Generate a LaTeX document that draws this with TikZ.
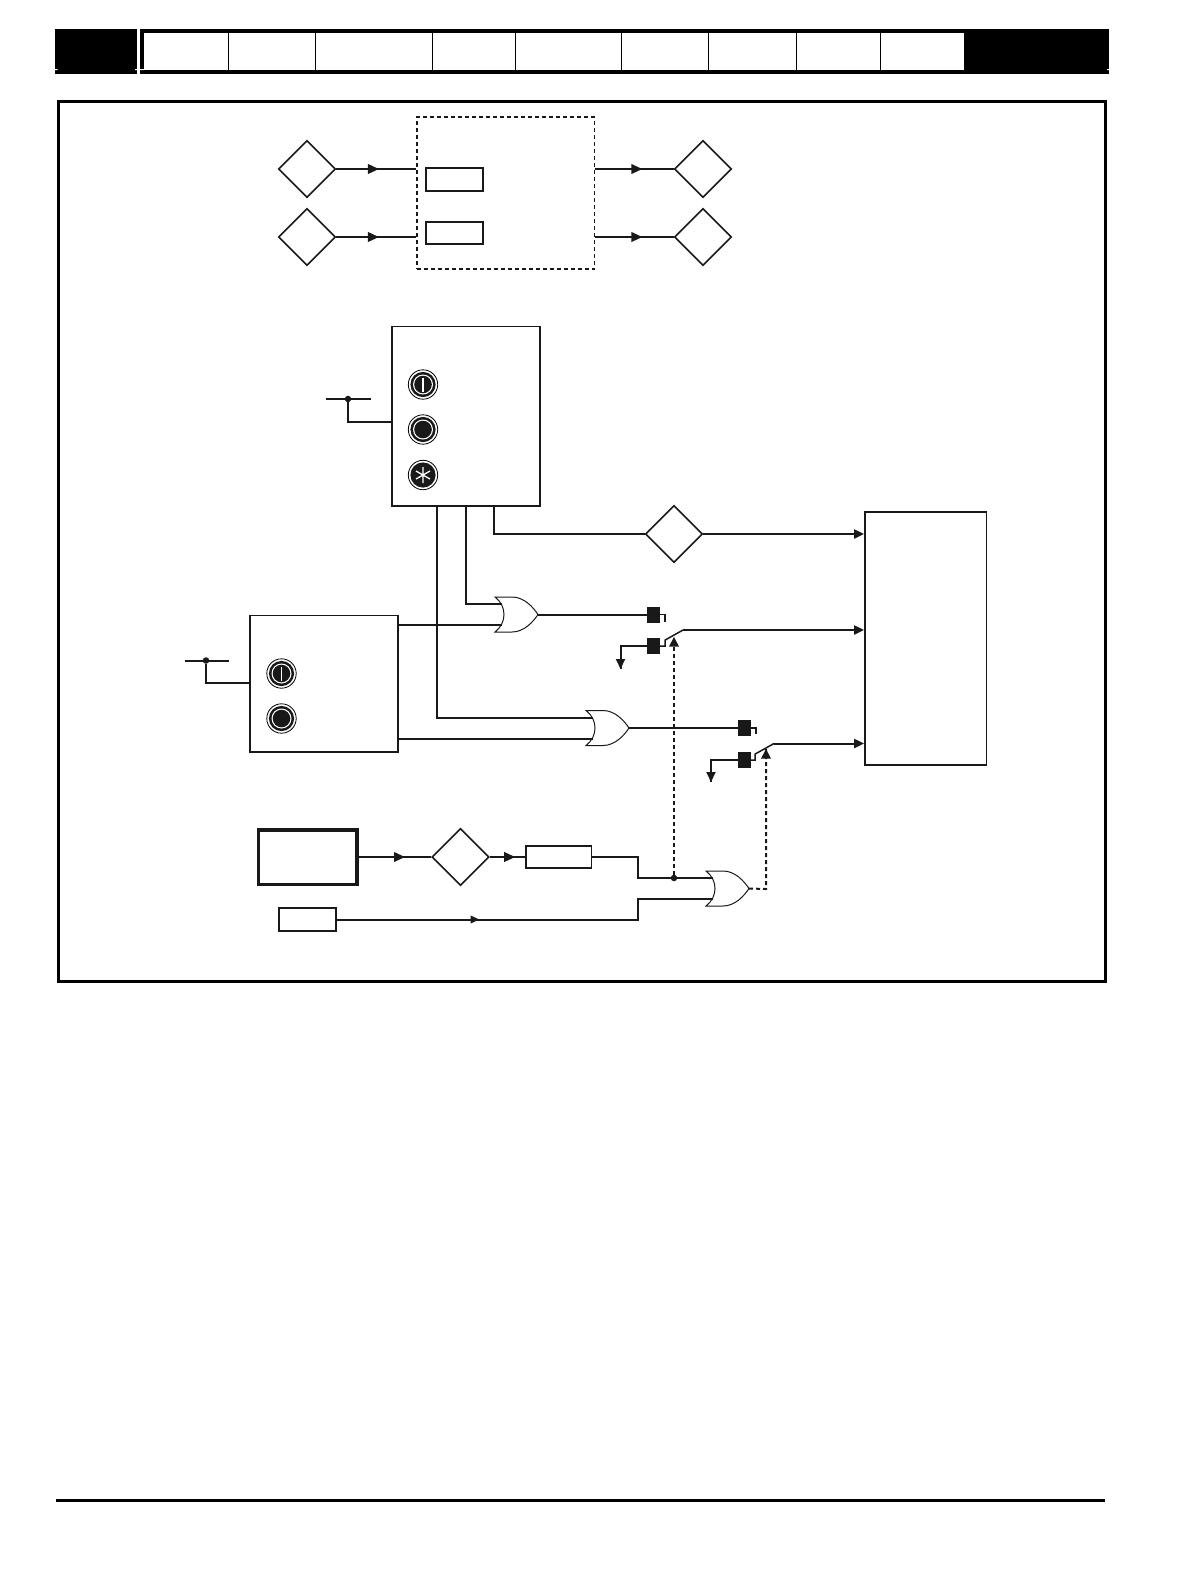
\documentclass[tikz,border=0pt]{standalone}
\usetikzlibrary{shapes.geometric,arrows.meta,decorations.markings,calc}
\tikzset{
  wire/.style={draw=black!90,line width=2pt},
  ctl/.style={draw=black!90,line width=2pt,dash pattern=on 4pt off 3pt},
  tipped/.style={-{Triangle[length=10pt,width=9pt]}},
  midarrow/.style={postaction={decorate},decoration={markings,mark=at position #1 with {\arrow{Triangle[length=11pt,width=9.5pt]}}}},
  smallmid/.style={postaction={decorate},decoration={markings,mark=at position #1 with {\arrow{Triangle[length=9pt,width=7.5pt]}}}},
  dia/.style={diamond,draw=black!90,line width=1.6pt,fill=white,minimum width=57pt,minimum height=57pt,inner sep=0pt,aspect=1},
  blk/.style={rectangle,draw=black!90,line width=1.8pt,inner sep=0pt},
  sqr/.style={rectangle,fill=black!90,minimum width=13pt,minimum height=16pt,inner sep=0pt},
  dotn/.style={circle,fill=black!90,minimum size=6.5pt,inner sep=0pt},
  orstyle/.style={draw=black!90,line width=1pt,fill=white},
  pics/buttonbase/.style={code={
    \draw[black,line width=.8pt] (0,0) circle (14.7);
    \fill[black!90] (0,0) circle (12.6);
    \fill[white] (0,0) circle (10);
    \fill[black!90] (0,0) circle (8.8);
  }},
  pics/startbtn/.style={code={
    \pic {buttonbase};
    \draw[white,line width=1.2pt] (0,-7) -- (0,7);
  }},
  pics/stopbtn/.style={code={\pic {buttonbase};}},
  pics/resetbtn/.style={code={
    \draw[black,line width=.8pt] (0,0) circle (14.7);
    \fill[black!90] (0,0) circle (12.6);
    \draw[white,line width=1.3pt] (0,-8) -- (0,8) (-7,-4) -- (7,4) (-7,4) -- (7,-4);
  }},
}
\newcommand{\orgate}[3]{%
  \begin{scope}[shift={(#2,#3)}]
    \path[orstyle] (0,0) -- (17,0) .. controls (29,0) and (38,10) .. (43,17.5)
      .. controls (38,25) and (29,35) .. (17,35) -- (0,35)
      .. controls (12,26) and (12,9) .. (0,0) -- cycle;
    \coordinate (#1in1) at (6.5,7);
    \coordinate (#1in2) at (6.5,28);
    \coordinate (#1out) at (43,17.5);
  \end{scope}}
\begin{document}
\begin{tikzpicture}[x=1pt,y=-1pt]
\useasboundingbox (0,0) rectangle (1190,1580);
% page header
\fill[black] (55,29) rectangle (137,73.5);
\fill[black] (140,29) rectangle (1109,74);
\fill[white] (144,33) rectangle (964,70);
\draw[black,line width=1pt] (228,33) -- (228,70) (315,33) -- (315,70) (432,33) -- (432,70)
  (515.5,33) -- (515.5,70) (621.5,33) -- (621.5,70) (708.5,33) -- (708.5,70)
  (796,33) -- (796,70) (880.5,33) -- (880.5,70);
\fill[white] (55,69) rectangle (57.5,70) (135,69) rectangle (144,70) (1107,69) rectangle (1109,70);
% frame and foot rule
\draw[black,line width=3pt] (58.5,101.5) rectangle (1105.5,981);
\draw[black,line width=3pt] (55.5,1500.5) -- (1105,1500.5);

% top group
\node[blk,dash pattern=on 4pt off 3pt,minimum width=177.5pt,minimum height=152pt] (dashbox) at (505.75,193) {};
\node[blk,minimum width=57pt,minimum height=23pt] (r1) at (454.5,179.5) {};
\node[blk,minimum width=57pt,minimum height=22pt] (r2) at (454.5,233) {};
\node[dia] (dl1) at (307,169) {};
\node[dia] (dl2) at (307,237) {};
\node[dia] (dr1) at (703,169) {};
\node[dia] (dr2) at (703,237) {};
\draw[wire,midarrow=.535] (dl1.east) -- (dl1.east -| dashbox.west);
\draw[wire,midarrow=.535] (dl2.east) -- (dl2.east -| dashbox.west);
\draw[wire,midarrow=.6] (dr1.west -| dashbox.east) -- (dr1.west);
\draw[wire,midarrow=.6] (dr2.west -| dashbox.east) -- (dr2.west);

% keypad box 1
\node[blk,minimum width=148pt,minimum height=179.5pt] (box1) at (466,416.25) {};
\pic at (423,384.5) {startbtn};
\pic at (423,429.5) {stopbtn};
\pic at (423,475) {resetbtn};
\coordinate (s1a) at (326,399);
\coordinate (s1b) at (371,399);
\node[dotn] (s1d) at (348,399) {};
\coordinate (s1t) at (box1.west |- 0,421.5);
\draw[wire] (s1a) -- (s1b);
\draw[wire] (s1d) |- (s1t);

% keypad box 2
\node[blk,minimum width=148pt,minimum height=136.5pt] (box2) at (324,683.75) {};
\pic at (281.5,673.5) {startbtn};
\pic at (281.5,718.5) {stopbtn};
\coordinate (s2a) at (184.5,660.5);
\coordinate (s2b) at (229,660.5);
\node[dotn] (s2d) at (206,660.5) {};
\coordinate (s2t) at (box2.west |- 0,683);
\draw[wire] (s2a) -- (s2b);
\draw[wire] (s2d) |- (s2t);

% destination box
\node[blk,minimum width=121.5pt,minimum height=253pt] (dest) at (925.75,638.5) {};
\node[dia] (dm) at (674,534) {};

% OR gates
\orgate{ga}{495}{597}
\orgate{gb}{586}{710.5}
\orgate{gc}{706}{871}

% box 1 outputs
\coordinate (b1a) at (437,506);
\coordinate (b1b) at (466,506);
\coordinate (b1c) at (494,506);
\draw[wire] (b1a) |- (gbin1);
\draw[wire] (b1b) |- (gain1);
\draw[wire] (b1c) |- (dm.west);
\draw[wire,tipped] (dm.east) -- (dm.east -| dest.west);
\draw[wire] (gain2 -| box2.east) -- (gain2);
\draw[wire] (gbin2 -| box2.east) -- (gbin2);

% switch 1
\node[sqr] (sa) at (653.5,614.5) {};
\node[sqr] (sb) at (653.5,646) {};
\coordinate (pa) at (683,630);
\coordinate (ta) at (674,637);
\coordinate (da) at (620.5,669);
\draw[wire] (gaout) -- (sa.west);
\draw[wire,line width=1.5pt] (sa.east) -- ++(5,0) -- ++(0,7);
\draw[wire] (sb.west) -| (da) ;
\draw[wire,tipped] (620.5,650) -- (da);
\draw[wire,line width=1.5pt] (sb.east) -- ++(5,0) -- ++(0,-6) -- (pa);
\draw[wire,tipped] (pa) -- (pa -| dest.west);

% switch 2
\node[sqr] (sc) at (744.5,728) {};
\node[sqr] (sd) at (744.5,760) {};
\coordinate (pb) at (774,743.5);
\coordinate (tb) at (766,749);
\coordinate (db) at (711,782);
\draw[wire] (gbout) -- (sc.west);
\draw[wire,line width=1.5pt] (sc.east) -- ++(5,0) -- ++(0,6);
\draw[wire] (sd.west) -| (db);
\draw[wire,tipped] (711,764) -- (db);
\draw[wire,line width=1.5pt] (sd.east) -- ++(4,0) -- ++(0,-6) -- (pb);
\draw[wire,tipped] (pb) -- (pb -| dest.west);

% lower chain
\node[rectangle,draw=black!90,line width=3.5pt,inner sep=0pt,minimum width=98.5pt,minimum height=54.5pt] (thick) at (307.5,857) {};
\node[dia] (dlow) at (460.5,857) {};
\node[blk,minimum width=65.5pt,minimum height=22pt] (rlow) at (558.75,857) {};
\node[blk,minimum width=57pt,minimum height=23pt] (rbot) at (307.5,919.5) {};
\draw[wire,midarrow=.64] (thick.east |- dlow.west) -- (dlow.west);
\draw[wire,midarrow=.72] (dlow.east) -- (rlow.west);
\coordinate (ja) at (638,857);
\coordinate (jb) at (638,878);
\coordinate (jc) at (638,919.5);
\coordinate (jd) at (638,899);
\draw[wire] (rlow.east) -- (ja) -- (jb) -- (gcin1);
\draw[wire,smallmid=.36] (rbot.east) -- (jc) -- (jd) -- (gcin2);
\node[dotn] (jdot) at (674,878) {};
\draw[ctl] (jdot) -- (ta);
\fill[black!90] (ta) -- ++(-5,9.5) -- ++(10,0) -- cycle;
\coordinate (gcback) at (766,889);
\draw[ctl] (gcout) -- (gcback) -- (tb);
\fill[black!90] (tb) -- ++(-5,9.5) -- ++(10,0) -- cycle;
\end{tikzpicture}
\end{document}
